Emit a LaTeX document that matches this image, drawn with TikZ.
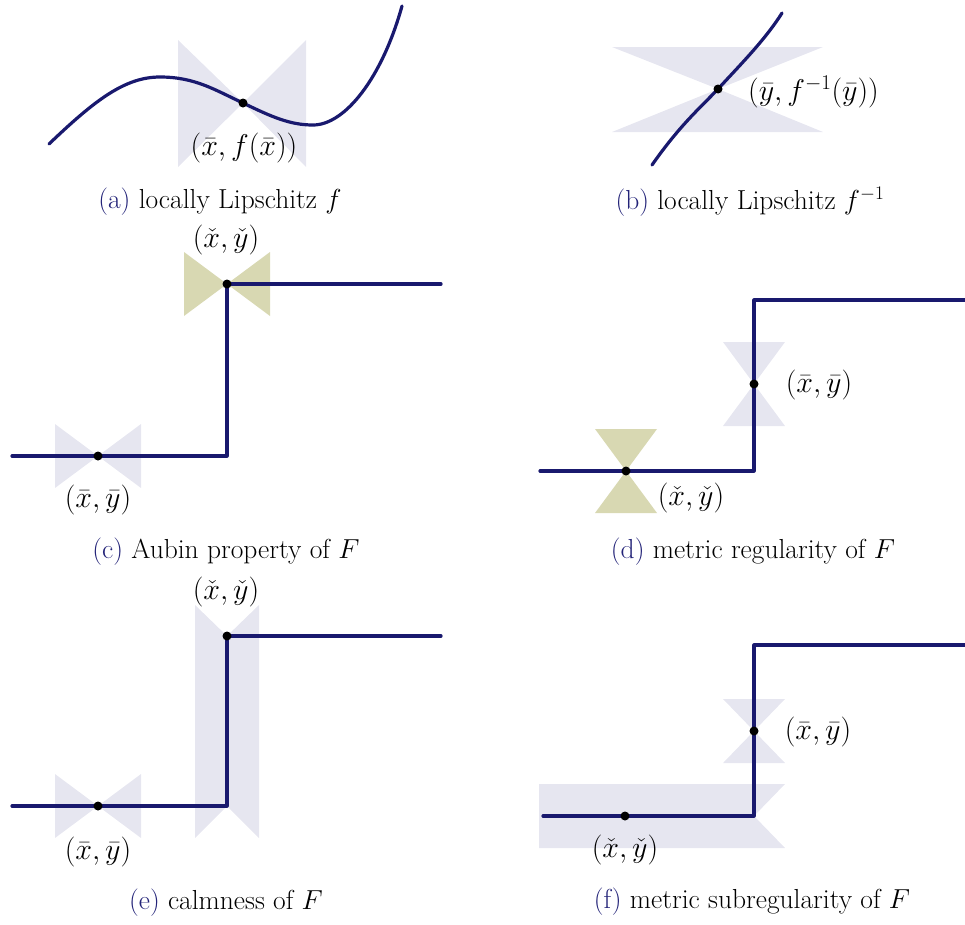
\RequirePackage{fix-cm}
\documentclass[tikz,border=0pt]{standalone}
\usepackage{xcolor}
\definecolor{navy}{RGB}{25,25,110}
\definecolor{capnavy}{RGB}{35,35,120}
\definecolor{lav}{RGB}{230,230,240}
\definecolor{khaki}{RGB}{216,216,178}
\begin{document}
\begin{tikzpicture}[x=1pt,y=-1pt,
  curve/.style={draw=navy,line width=3.2pt,line cap=round,line join=round},
  dot/.style={circle,fill=black,inner sep=0pt,minimum size=9pt},
  lbl/.style={font=\fontsize{30}{35}\selectfont,inner sep=0pt},
  captxt/.style={font=\fontsize{27.5}{32}\selectfont,inner sep=0pt}]
\useasboundingbox (0,0) rectangle (965,924);

% ---------- (a)
\coordinate (A) at (243,103);
\fill[lav] (178,40) -- (A) -- (178,167) -- cycle;
\fill[lav] (306,40) -- (A) -- (306,167) -- cycle;
\draw[curve] (49,144) .. controls (95,100) and (125,77) .. (160,77)
  .. controls (195,77) and (215,90) .. (A)
  .. controls (272,117) and (290,125) .. (313,125)
  .. controls (345,125) and (382,78) .. (402,6);
\node[dot] (pa) at (A) {};
\node[lbl] (la) at (244,148) {$(\bar x, f(\bar x))$};
\node[captxt] (ca) at (220,202) {\textcolor{capnavy}{(a)} locally Lipschitz $f$};

% ---------- (b)
\coordinate (B) at (718,89);
\fill[lav] (612,47) -- (823,47) -- (B) -- cycle;
\fill[lav] (612,132) -- (823,132) -- (B) -- cycle;
\draw[curve] (652,165) .. controls (680,125) and (700,108) .. (B)
  .. controls (740,65) and (765,40) .. (782,13);
\node[dot] (pb) at (B) {};
\node[lbl,anchor=west] (lb) at (748,92) {$(\bar y, f^{-1}(\bar y))$};
\node[captxt] (cb) at (750,202) {\textcolor{capnavy}{(b)} locally Lipschitz $f^{-1}$};

% ---------- (c)
\coordinate (C1) at (98,456);
\coordinate (C2) at (227,284);
\fill[lav] (55,424) -- (C1) -- (55,488) -- cycle;
\fill[lav] (141,424) -- (C1) -- (141,488) -- cycle;
\fill[khaki] (184,252) -- (C2) -- (184,316) -- cycle;
\fill[khaki] (270,252) -- (C2) -- (270,316) -- cycle;
\coordinate (c0) at (12,456);
\coordinate (c1) at (227,456);
\coordinate (c2) at (441,284);
\draw[curve] (c0) -- (c1) -- (C2) -- (c2);
\node[dot] (pc1) at (C1) {};
\node[dot] (pc2) at (C2) {};
\node[lbl] (lc2) at (226,240) {$(\check x, \check y)$};
\node[lbl] (lc1) at (98,500) {$(\bar x, \bar y)$};
\node[captxt] (cc) at (226,552) {\textcolor{capnavy}{(c)} Aubin property of $F$};

% ---------- (d)
\coordinate (D1) at (754,384);
\coordinate (D2) at (626,471);
\fill[lav] (723,342) -- (785,342) -- (D1) -- cycle;
\fill[lav] (723,426) -- (785,426) -- (D1) -- cycle;
\fill[khaki] (595,429) -- (657,429) -- (D2) -- cycle;
\fill[khaki] (595,513) -- (657,513) -- (D2) -- cycle;
\coordinate (d0) at (540,471);
\coordinate (d1) at (754,471);
\coordinate (d2) at (754,300);
\coordinate (d3) at (968,300);
\draw[curve] (d0) -- (d1) -- (d2) -- (d3);
\node[dot] (pd1) at (D1) {};
\node[dot] (pd2) at (D2) {};
\node[lbl] (ld1) at (819,385) {$(\bar x, \bar y)$};
\node[lbl] (ld2) at (691,498) {$(\check x, \check y)$};
\node[captxt] (cd) at (753,552) {\textcolor{capnavy}{(d)} metric regularity of $F$};

% ---------- (e)
\coordinate (E1) at (98,806);
\coordinate (E2) at (227,636);
\fill[lav] (55,774) -- (E1) -- (55,838) -- cycle;
\fill[lav] (141,774) -- (E1) -- (141,838) -- cycle;
\fill[lav] (195,605) -- (E2) -- (259,605) -- (259,838) -- (227,806) -- (195,838) -- cycle;
\coordinate (e0) at (12,806);
\coordinate (e1) at (227,806);
\coordinate (e2) at (441,636);
\draw[curve] (e0) -- (e1) -- (E2) -- (e2);
\node[dot] (pe1) at (E1) {};
\node[dot] (pe2) at (E2) {};
\node[lbl] (le2) at (226,592) {$(\check x, \check y)$};
\node[lbl] (le1) at (98,852) {$(\bar x, \bar y)$};
\node[captxt] (ce) at (226,903) {\textcolor{capnavy}{(e)} calmness of $F$};

% ---------- (f)
\coordinate (F1) at (754,731);
\coordinate (F2) at (625,816);
\fill[lav] (723,699) -- (785,699) -- (F1) -- cycle;
\fill[lav] (723,763) -- (785,763) -- (F1) -- cycle;
\fill[lav] (539,784) -- (785,784) -- (754,816) -- (785,848) -- (539,848) -- cycle;
\coordinate (f0) at (543,816);
\coordinate (f1) at (754,816);
\coordinate (f2) at (754,645);
\coordinate (f3) at (968,645);
\draw[curve] (f0) -- (f1) -- (f2) -- (f3);
\node[dot] (pf1) at (F1) {};
\node[dot] (pf2) at (F2) {};
\node[lbl] (lf1) at (818,732) {$(\bar x, \bar y)$};
\node[lbl] (lf2) at (625,850) {$(\check x, \check y)$};
\node[captxt] (cf) at (752,902) {\textcolor{capnavy}{(f)} metric subregularity of $F$};
\end{tikzpicture}
\end{document}
